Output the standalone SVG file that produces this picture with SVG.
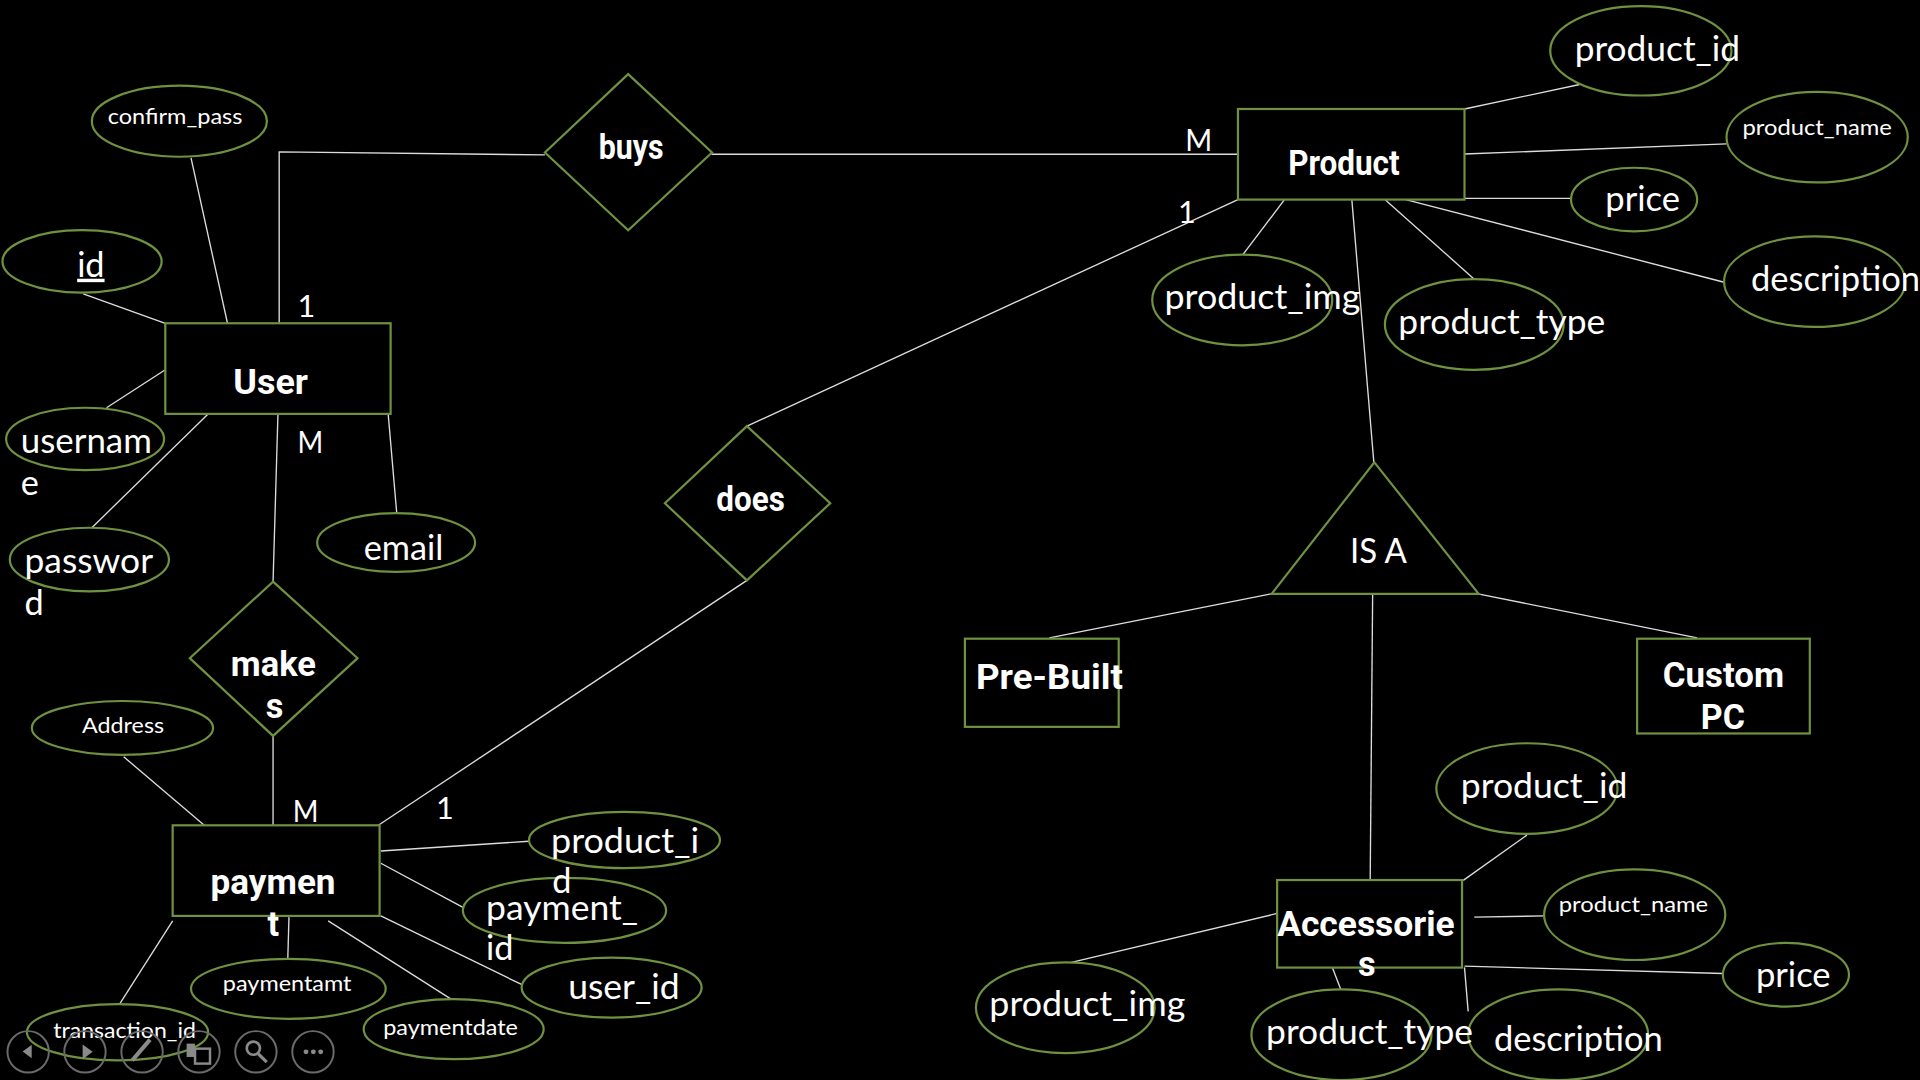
<svg xmlns="http://www.w3.org/2000/svg" width="1920" height="1080" viewBox="0 0 1920 1080">
<style>
.sh{fill:#000;stroke:#6f9140;stroke-width:1.8}
.ln{stroke:#dcdcdc;stroke-width:1.1;fill:none}
.t{fill:#fff;font-family:"Lato","Liberation Sans",sans-serif;font-size:28px}
.s{fill:#fff;font-family:"Lato","Liberation Sans",sans-serif;font-size:18px}
.b{fill:#fff;font-family:"Roboto","Liberation Sans",sans-serif;font-weight:bold;font-size:28px}
.lb{fill:#fff;font-family:"Lato","Liberation Sans",sans-serif;font-size:25px}
.tb{fill:none;stroke:#6a6a6a;stroke-width:1.6}
.ic{fill:#8a8a8a}
</style>
<rect x="0" y="0" width="1920" height="1080" fill="#000"/>
<g transform="scale(1.2244898)">
<g id="connectors">
<polyline class="ln" points="228,264 228,124 445,126.5"/>
<line class="ln" x1="186" y1="265" x2="156" y2="129"/>
<line class="ln" x1="135" y1="264" x2="68" y2="240"/>
<line class="ln" x1="135" y1="302" x2="87" y2="333"/>
<line class="ln" x1="171" y1="337" x2="75" y2="431"/>
<line class="ln" x1="317" y1="338" x2="324" y2="419"/>
<line class="ln" x1="227" y1="338" x2="223" y2="475"/>
<line class="ln" x1="223" y1="601" x2="223" y2="674"/>
<line class="ln" x1="581" y1="126" x2="1011" y2="126"/>
<line class="ln" x1="1011" y1="163" x2="610" y2="348"/>
<line class="ln" x1="610" y1="474" x2="309" y2="674"/>
<line class="ln" x1="168" y1="675" x2="101" y2="618"/>
<line class="ln" x1="311" y1="695" x2="432" y2="687"/>
<line class="ln" x1="311" y1="705" x2="380" y2="742"/>
<line class="ln" x1="311" y1="748" x2="428" y2="805"/>
<line class="ln" x1="268" y1="752" x2="370" y2="817"/>
<line class="ln" x1="236" y1="749" x2="235" y2="784"/>
<line class="ln" x1="141" y1="752" x2="97" y2="821"/>
<line class="ln" x1="1196" y1="89" x2="1290" y2="69"/>
<line class="ln" x1="1196" y1="125.8" x2="1410" y2="117.5"/>
<line class="ln" x1="1196" y1="162" x2="1283" y2="162"/>
<line class="ln" x1="1148" y1="163" x2="1408" y2="230.5"/>
<line class="ln" x1="1131" y1="163" x2="1204" y2="228"/>
<line class="ln" x1="1049" y1="163" x2="1015" y2="208"/>
<line class="ln" x1="1104" y1="163" x2="1122" y2="378"/>
<line class="ln" x1="1038" y1="485" x2="857" y2="521"/>
<line class="ln" x1="1207" y1="485" x2="1386" y2="521"/>
<line class="ln" x1="1121" y1="485" x2="1119" y2="718"/>
<line class="ln" x1="1195" y1="719" x2="1247" y2="682"/>
<line class="ln" x1="1204" y1="749" x2="1261" y2="748"/>
<line class="ln" x1="1196" y1="789" x2="1407" y2="795"/>
<line class="ln" x1="1196" y1="790" x2="1199" y2="826"/>
<line class="ln" x1="1088" y1="790" x2="1095" y2="808"/>
<line class="ln" x1="1043" y1="746" x2="875" y2="786"/>
<text class="lb" x="243" y="258.6">1</text>
<text class="lb" x="243" y="370" textLength="21" lengthAdjust="spacingAndGlyphs">M</text>
<text class="lb" x="239" y="671" textLength="21" lengthAdjust="spacingAndGlyphs">M</text>
<text class="lb" x="356" y="669">1</text>
<text class="lb" x="968" y="123" textLength="22" lengthAdjust="spacingAndGlyphs">M</text>
<text class="lb" x="962" y="182">1</text>
</g>

<g id="user">
<rect class="sh" x="135" y="264" width="184" height="74"/>
<text class="b" x="190.5" y="322" font-size="31" textLength="61" lengthAdjust="spacingAndGlyphs">User</text>
</g>
<g id="attr-confirm_pass">
<ellipse class="sh" cx="146.5" cy="99" rx="71.5" ry="29"/>
<text class="s" x="88" y="101" textLength="110" lengthAdjust="spacingAndGlyphs">confirm_pass</text>
</g>
<g id="attr-id">
<ellipse class="sh" cx="67" cy="213.5" rx="65" ry="25.5"/>
<text class="t" x="63" y="226" text-decoration="underline">id</text>
</g>
<g id="attr-username">
<ellipse class="sh" cx="69.5" cy="358.5" rx="64.5" ry="25.5"/>
<text class="t" x="17" y="370" textLength="107" lengthAdjust="spacingAndGlyphs">usernam</text>
<text class="t" x="17" y="404">e</text>
</g>
<g id="attr-password">
<ellipse class="sh" cx="73" cy="457" rx="65" ry="26"/>
<text class="t" x="20" y="468" textLength="105" lengthAdjust="spacingAndGlyphs">passwor</text>
<text class="t" x="20" y="502">d</text>
</g>
<g id="attr-email">
<ellipse class="sh" cx="323.5" cy="443" rx="64.5" ry="24"/>
<text class="t" x="297" y="457" textLength="65" lengthAdjust="spacingAndGlyphs">email</text>
</g>

<g id="rel-buys">
<polygon class="sh" points="513,60.5 581.5,124.5 513,188 445,124.5"/>
<text class="b" x="489" y="130" font-size="25" textLength="53" lengthAdjust="spacingAndGlyphs">buys</text>
</g>
<g id="rel-makes">
<polygon class="sh" points="223,475 292,537.5 223,601 155,537.5"/>
<text class="b" x="188.5" y="552" textLength="69.5" lengthAdjust="spacingAndGlyphs">make</text>
<text class="b" x="217" y="586.6">s</text>
</g>
<g id="rel-does">
<polygon class="sh" points="610,348 678,411 610,474 543,411"/>
<text class="b" x="585" y="417" font-size="25" textLength="56" lengthAdjust="spacingAndGlyphs">does</text>
</g>

<g id="payment">
<rect class="sh" x="141" y="674" width="169" height="74"/>
<text class="b" x="172" y="730" textLength="102" lengthAdjust="spacingAndGlyphs">paymen</text>
<text class="b" x="218.5" y="764">t</text>
</g>
<g id="attr-address">
<ellipse class="sh" cx="100" cy="594.5" rx="74" ry="22"/>
<text class="s" x="67" y="599" textLength="67" lengthAdjust="spacingAndGlyphs">Address</text>
</g>
<g id="attr-payment_id">
<ellipse class="sh" cx="461" cy="743.5" rx="83" ry="26.5"/>
<text class="t" x="397" y="751" textLength="124" lengthAdjust="spacingAndGlyphs">payment_</text>
<text class="t" x="397" y="784">id</text>
</g>
<g id="attr-pay-product_id">
<ellipse class="sh" cx="510" cy="686" rx="78" ry="23"/>
<text class="t" x="450" y="697" textLength="121" lengthAdjust="spacingAndGlyphs">product_i</text>
<text class="t" x="451" y="729">d</text>
</g>
<g id="attr-user_id">
<ellipse class="sh" cx="499.5" cy="806.5" rx="73.5" ry="24.5"/>
<text class="t" x="464" y="816" textLength="91" lengthAdjust="spacingAndGlyphs">user_id</text>
</g>
<g id="attr-paymentdate">
<ellipse class="sh" cx="370.5" cy="840.5" rx="73.5" ry="24.5"/>
<text class="s" x="313" y="845" textLength="110" lengthAdjust="spacingAndGlyphs">paymentdate</text>
</g>
<g id="attr-paymentamt">
<ellipse class="sh" cx="235.5" cy="807.5" rx="79.5" ry="24.5"/>
<text class="s" x="182" y="809" textLength="105" lengthAdjust="spacingAndGlyphs">paymentamt</text>
</g>
<g id="attr-transaction_id">
<ellipse class="sh" cx="96" cy="843" rx="74" ry="23"/>
<text class="s" x="43.5" y="848" textLength="116.5" lengthAdjust="spacingAndGlyphs">transaction_id</text>
</g>

<g id="product">
<rect class="sh" x="1011" y="89" width="185" height="74"/>
<text class="b" x="1052" y="143" font-size="25" textLength="91" lengthAdjust="spacingAndGlyphs">Product</text>
</g>
<g id="attr-product_id">
<ellipse class="sh" cx="1340" cy="41.5" rx="74" ry="36.5"/>
<text class="t" x="1286" y="50" textLength="135" lengthAdjust="spacingAndGlyphs">product_id</text>
</g>
<g id="attr-product_name">
<ellipse class="sh" cx="1484" cy="112" rx="74" ry="37"/>
<text class="s" x="1423" y="110" textLength="122" lengthAdjust="spacingAndGlyphs">product_name</text>
</g>
<g id="attr-price">
<ellipse class="sh" cx="1334.5" cy="163" rx="51.5" ry="26"/>
<text class="t" x="1311" y="172" textLength="61" lengthAdjust="spacingAndGlyphs">price</text>
</g>
<g id="attr-description">
<ellipse class="sh" cx="1482" cy="230" rx="74" ry="37"/>
<text class="t" x="1430" y="238" textLength="138" lengthAdjust="spacingAndGlyphs">description</text>
</g>
<g id="attr-product_img">
<ellipse class="sh" cx="1014.5" cy="245" rx="73.5" ry="37"/>
<text class="t" x="951" y="252" textLength="160" lengthAdjust="spacingAndGlyphs">product_img</text>
</g>
<g id="attr-product_type">
<ellipse class="sh" cx="1204" cy="265" rx="73" ry="37"/>
<text class="t" x="1142" y="273" textLength="169" lengthAdjust="spacingAndGlyphs">product_type</text>
</g>

<g id="isa">
<polygon class="sh" points="1122.4,377.6 1207.6,485 1038.5,485"/>
<text class="t" x="1102.5" y="460" font-size="26" textLength="46.5" lengthAdjust="spacingAndGlyphs">IS A</text>
</g>
<g id="prebuilt">
<rect class="sh" x="788" y="521.6" width="125.6" height="72"/>
<text class="b" x="797" y="563" textLength="120" lengthAdjust="spacingAndGlyphs">Pre-Built</text>
</g>
<g id="custompc">
<rect class="sh" x="1337" y="521.6" width="141" height="77.4"/>
<text class="b" x="1358" y="561" textLength="99" lengthAdjust="spacingAndGlyphs">Custom</text>
<text class="b" x="1389" y="595" textLength="36" lengthAdjust="spacingAndGlyphs">PC</text>
</g>

<g id="accessories">
<rect class="sh" x="1043" y="718.7" width="151" height="71.5"/>
<text class="b" x="1043" y="764" textLength="145" lengthAdjust="spacingAndGlyphs">Accessorie</text>
<text class="b" x="1109" y="797">s</text>
</g>
<g id="attr-acc-product_id">
<ellipse class="sh" cx="1247" cy="644" rx="74" ry="37"/>
<text class="t" x="1193" y="652" textLength="136" lengthAdjust="spacingAndGlyphs">product_id</text>
</g>
<g id="attr-acc-product_name">
<ellipse class="sh" cx="1335" cy="747" rx="74" ry="37"/>
<text class="s" x="1273" y="745" textLength="122" lengthAdjust="spacingAndGlyphs">product_name</text>
</g>
<g id="attr-acc-price">
<ellipse class="sh" cx="1458.5" cy="796" rx="51.5" ry="26"/>
<text class="t" x="1434" y="806" textLength="61" lengthAdjust="spacingAndGlyphs">price</text>
</g>
<g id="attr-acc-description">
<ellipse class="sh" cx="1272.5" cy="845" rx="73.5" ry="37"/>
<text class="t" x="1220" y="858" textLength="138" lengthAdjust="spacingAndGlyphs">description</text>
</g>
<g id="attr-acc-product_type">
<ellipse class="sh" cx="1095.5" cy="845" rx="73.5" ry="37"/>
<text class="t" x="1034" y="853" textLength="169" lengthAdjust="spacingAndGlyphs">product_type</text>
</g>
<g id="attr-acc-product_img">
<ellipse class="sh" cx="870" cy="823" rx="73" ry="37"/>
<text class="t" x="808" y="830" textLength="160" lengthAdjust="spacingAndGlyphs">product_img</text>
</g>

<g id="toolbar">
<circle class="tb" cx="23" cy="859" r="16.9"/>
<circle class="tb" cx="69.4" cy="859" r="16.9"/>
<circle class="tb" cx="116" cy="859" r="16.9"/>
<circle class="tb" cx="162.5" cy="859" r="16.9"/>
<circle class="tb" cx="209" cy="859" r="16.9"/>
<circle class="tb" cx="255.6" cy="859" r="16.9"/>
<polygon class="ic" points="18.5,858.8 25.9,853.3 25.9,864.2"/>
<polygon class="ic" points="67.5,853 67.5,865 75.7,859"/>
<line x1="108" y1="866" x2="122.5" y2="849" stroke="#8a8a8a" stroke-width="3.3"/>
<rect class="ic" x="152.4" y="852.3" width="6.8" height="10.9"/>
<rect x="159.3" y="856.4" width="12.2" height="12.2" fill="none" stroke="#8a8a8a" stroke-width="2"/>
<circle cx="206.9" cy="856" r="5.4" fill="none" stroke="#8a8a8a" stroke-width="2.2"/>
<line x1="211" y1="860.6" x2="217.8" y2="867.4" stroke="#8a8a8a" stroke-width="2.6"/>
<circle class="ic" cx="249.9" cy="859" r="2"/>
<circle class="ic" cx="255.9" cy="859" r="2"/>
<circle class="ic" cx="261.9" cy="859" r="2"/>
</g>
</g>
</svg>
